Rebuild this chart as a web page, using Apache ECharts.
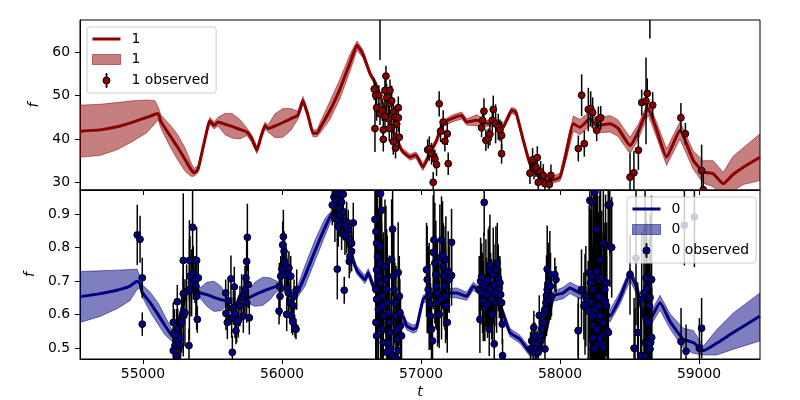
<!DOCTYPE html>
<html><head><meta charset="utf-8">
<script src="https://cdn.jsdelivr.net/npm/echarts@6/dist/echarts.min.js"></script>
<style>html,body{margin:0;padding:0;background:#fff}#c{width:800px;height:400px}</style>
</head><body><div id="c"></div>
<script>
const xTicks = [55000, 56000, 57000, 58000, 59000];
const yTicksTop = [30, 40, 50, 60];
const yTicksBottom = [0.5, 0.6, 0.7, 0.8, 0.9];

// model for output "1": [t, mean, lower, upper]
const model1 = [
[54547,41.8,35.8,47.8],[54691,42.1,36.2,48.0],[54813,42.8,37.5,48.4],[54928,43.9,39.5,48.8],
[55029,45.0,41.5,49.0],[55086,45.7,43.5,48.8],[55108,45.9,44.5,47.5],[55129,44.0,42.5,45.5],
[55194,40.8,38.3,43.3],[55245,38.3,35.4,41.2],[55302,35.3,32.6,38.0],[55345,33.0,31.4,34.6],
[55367,32.2,31.4,33.2],[55396,33.0,32.2,33.8],[55432,38.0,37.2,38.8],[55468,43.0,42.2,43.8],
[55482,44.2,43.4,45.0],[55511,43.1,42.3,43.9],[55540,43.9,43.0,45.0],[55590,43.4,41.0,45.9],
[55640,42.9,40.2,45.9],[55698,42.2,40.0,44.5],[55748,41.6,40.8,42.5],[55784,40.0,39.2,40.8],
[55820,37.4,36.6,38.2],[55849,40.5,39.7,41.3],[55878,43.1,42.3,43.9],[55899,42.4,41.6,43.2],
[55950,43.0,40.3,45.8],[56007,43.8,40.4,47.0],[56065,44.7,42.0,47.0],[56115,45.5,44.6,46.4],
[56151,48.9,48.0,49.8],[56187,45.5,44.7,46.3],[56223,41.3,40.5,42.1],[56252,41.3,40.5,42.1],
[56273,42.5,41.3,43.7],[56345,46.5,44.5,48.7],[56417,51.5,49.3,53.8],[56489,57.5,55.6,59.5],
[56540,61.6,60.5,62.6],[56583,59.5,58.7,60.5],[56633,55.1,54.5,55.8],[56669,53.1,52.5,53.7],
[56705,50.0,49.4,50.6],[56741,46.6,46.0,47.2],[56799,42.0,41.4,42.6],[56861,37.4,36.8,38.0],
[56921,35.8,35.1,36.5],[56964,36.3,35.6,37.0],[57014,33.5,32.7,34.3],[57065,36.7,36.0,37.4],
[57113,39.7,39.0,40.4],[57158,43.6,42.9,44.3],[57230,44.8,44.0,45.6],[57293,45.4,44.6,46.2],
[57329,43.9,43.2,44.6],[57401,44.3,43.0,45.6],[57473,43.6,42.9,44.3],[57545,43.9,43.2,44.6],
[57590,42.7,42.0,43.4],[57652,46.6,45.9,47.3],[57683,46.2,45.5,46.9],[57736,39.7,39.0,40.4],
[57784,34.3,33.6,35.0],[57856,31.2,30.5,31.9],[57928,30.4,29.6,31.2],[58000,31.2,30.3,32.1],
[58043,36.5,35.0,38.0],[58096,43.5,41.8,45.3],[58144,42.7,41.0,44.5],[58216,44.7,43.0,46.4],
[58264,43.1,41.4,44.8],[58360,43.5,41.6,45.4],[58417,42.5,40.6,44.4],[58504,38.5,36.6,40.4],
[58561,41.5,39.8,43.2],[58635,47.0,45.5,48.5],[58691,42.5,40.8,44.2],[58767,35.8,33.9,37.7],
[58863,42.0,40.0,44.0],[58959,35.1,33.0,37.2],[59031,32.4,29.8,35.0],[59101,32.0,29.0,35.0],
[59175,29.7,27.2,32.3],[59245,31.8,28.0,36.0],[59319,33.5,29.5,38.0],[59439,35.8,30.4,41.2]
];

// model for output "0": [t, mean, lower, upper]
const model0 = [
[54547,.654,.577,.729],[54691,.663,.595,.731],[54813,.673,.618,.733],[54906,.685,.642,.735],
[54957,.700,.675,.736],[54978,.693,.680,.715],[54993,.668,.655,.690],[55050,.637,.610,.668],
[55108,.601,.572,.636],[55158,.568,.540,.596],[55209,.537,.520,.555],[55230,.530,.520,.540],
[55266,.596,.586,.606],[55295,.640,.630,.650],[55324,.675,.665,.685],[55360,.672,.662,.682],
[55388,.675,.665,.685],[55410,.665,.650,.680],[55460,.660,.625,.697],[55511,.652,.610,.700],
[55561,.645,.612,.685],[55604,.640,.625,.655],[55626,.616,.606,.626],[55655,.610,.600,.620],
[55698,.655,.645,.665],[55748,.649,.635,.665],[55806,.660,.625,.697],[55863,.670,.628,.712],
[55914,.678,.645,.710],[55964,.685,.670,.700],[56007,.680,.670,.690],[56065,.662,.650,.674],
[56108,.665,.650,.680],[56165,.715,.685,.745],[56237,.790,.760,.822],[56309,.860,.835,.887],
[56367,.905,.895,.915],[56417,.900,.890,.910],[56489,.793,.783,.803],[56537,.734,.722,.746],
[56597,.705,.693,.717],[56621,.725,.713,.737],[56657,.685,.673,.697],[56705,.650,.638,.662],
[56753,.616,.604,.628],[56825,.586,.574,.598],[56870,.595,.580,.610],[56897,.567,.555,.579],
[56945,.557,.545,.569],[56969,.562,.550,.574],[57016,.646,.634,.658],[57088,.665,.650,.680],
[57173,.665,.653,.677],[57257,.665,.650,.680],[57329,.655,.643,.667],[57376,.685,.673,.697],
[57424,.670,.658,.682],[57496,.660,.648,.672],[57545,.655,.643,.667],[57590,.605,.593,.617],
[57640,.547,.535,.559],[57712,.527,.515,.539],[57784,.488,.476,.500],[57832,.478,.466,.490],
[57904,.557,.545,.569],[57952,.655,.640,.670],[58024,.665,.648,.682],[58072,.680,.663,.697],
[58144,.665,.648,.682],[58192,.665,.648,.682],[58288,.650,.632,.668],[58360,.596,.578,.614],
[58432,.650,.632,.668],[58504,.720,.702,.738],[58552,.680,.662,.698],[58624,.567,.549,.585],
[58720,.636,.614,.658],[58792,.580,.558,.602],[58887,.527,.500,.560],[58959,.517,.485,.553],
[59031,.493,.480,.506],[59127,.515,.480,.555],[59247,.547,.497,.605],[59439,.596,.522,.665]
];

// observations for "1": [t, f, error]
const obs1 = [
[56664,51.5,2.5],[56674,50.1,2.8],[56697,50.1,2.3],[56681,47.2,3.0],[56669,42.4,5.4],[56705,45.8,2.6],
[56721,46.6,2.4],[56748,54.5,2.4],[56741,51.2,2.8],[56753,49.5,3.2],[56777,51.2,2.5],[56772,48.1,3.0],
[56789,48.8,3.5],[56729,42.1,3.0],[56729,39.9,2.8],[56765,44.7,2.6],[56741,45.2,3.4],[56801,46.2,3.0],
[56813,45.1,2.5],[56801,39.4,3.0],[56817,37.9,2.4],[56837,47.2,2.6],[56837,44.9,3.2],[56825,43.4,2.7],
[56844,40.4,2.5],[56789,42.6,2.5],[56772,42.4,3.0],[56705,74.0,15.8],
[57048,37.5,2.4],[57060,37.8,2.8],[57076,36.6,2.5],[57100,35.4,2.2],[57112,34.1,2.6],[57088,30.0,2.4],
[57131,48.1,2.9],[57141,41.8,2.5],[57160,43.9,2.7],[57172,39.5,2.4],[57189,41.2,2.6],[57196,34.3,2.6],
[57436,42.6,2.2],[57443,44.3,2.6],[57453,46.4,3.0],[57467,39.7,2.5],[57484,40.1,2.3],[57496,41.1,2.6],
[57513,44.3,2.5],[57520,46.8,3.2],[57537,43.5,4.5],[57556,42.8,3.0],[57568,42.0,2.5],[57580,40.8,3.3],
[57580,36.6,2.3],
[57784,32.1,2.5],[57803,35.2,2.7],[57813,33.1,2.4],[57837,35.7,2.6],[57827,33.5,2.3],[57844,30.0,3.0],
[57861,32.4,2.5],[57880,31.6,2.6],[57892,29.7,2.4],[57923,29.5,2.2],[57935,31.6,2.5],
[58132,37.8,3.0],[58156,50.1,4.8],[58175,38.9,3.0],[58204,46.8,5.0],[58221,47.0,4.0],[58235,46.1,3.5],
[58264,42.0,2.5],[58276,44.5,3.0],[58293,44.9,2.7],
[58504,31.2,5.5],[58532,32.2,5.0],[58564,37.4,4.6],[58588,48.4,3.0],[58619,48.8,10.0],[58628,50.5,3.5],
[58667,47.8,3.0],[58647,72.0,8.8],
[58870,44.9,3.4],[58902,41.2,2.5],[59019,32.7,6.0],[59031,28.3,5.0]
];

// observations for "0": [t, f, error]
const obs0 = [
[54959,.838,.09],[54979,.825,.07],[54995,.710,.06],[54995,.572,.035],
[55218,.577,.06],[55226,.547,.07],[55230,.508,.05],[55242,.537,.08],[55250,.557,.06],[55254,.522,.05],
[55266,.508,.07],[55271,.532,.06],[55218,.493,.04],[55242,.478,.05],[55278,.577,.09],[55290,.596,.12],
[55247,.639,.05],[55302,.606,.1],[55314,.670,.08],[55334,.675,.15],[55338,.715,.12],[55350,.695,.1],
[55357,.861,.14],[55362,.725,.08],[55374,.705,.07],[55381,.685,.09],[55386,.655,.1],[55391,.586,.04],
[55398,.710,.06],[55290,.762,.2],[55334,.762,.12],[55386,.762,.1],[55290,.663,.1],[55331,.508,.05],
[55595,.665,.04],[55597,.604,.05],[55607,.577,.05],[55614,.641,.06],[55633,.707,.07],[55638,.591,.06],
[55650,.621,.05],[55657,.683,.06],[55662,.601,.07],[55669,.552,.04],[55674,.577,.06],[55686,.582,.05],
[55643,.488,.05],[55698,.626,.06],[55710,.651,.07],[55722,.596,.05],[55727,.660,.06],[55734,.675,.07],
[55741,.710,.06],[55746,.759,.08],[55751,.831,.1],[55758,.690,.07],[55765,.591,.05],[55746,.636,.06],
[55979,.611,.04],[55981,.685,.07],[55991,.715,.06],[56000,.736,.07],[56005,.808,.07],[56010,.833,.08],
[56015,.789,.06],[56019,.759,.07],[55986,.655,.06],[56029,.744,.07],[56034,.720,.06],[56039,.680,.05],
[56046,.665,.06],[56050,.739,.05],[56058,.636,.06],[56063,.715,.06],[56070,.596,.05],[56077,.579,.04],
[56082,.626,.05],[56087,.655,.05],[56094,.562,.03],[56101,.557,.03],[56106,.675,.06],[56034,.601,.05],
[56362,.927,.06],[56374,.951,.07],[56388,.961,.06],[56405,.956,.05],[56417,.963,.06],[56441,.959,.06],
[56393,.941,.05],[56429,.936,.06],[56412,.917,.05],[56381,.887,.07],[56398,.882,.06],[56422,.897,.05],
[56441,.907,.06],[56405,.863,.06],[56441,.872,.05],[56465,.877,.06],[56429,.843,.05],[56453,.838,.06],
[56465,.833,.05],[56477,.853,.06],[56489,.823,.05],[56501,.813,.06],[56513,.874,.06],[56489,.774,.05],
[56501,.789,.06],[56484,.759,.05],[56398,.736,.09],[56448,.673,.04],[56460,.867,.05],
[56669,.884,.2],[56676,.848,.25],[56681,.813,.22],[56688,.774,.18],[56681,.734,.3],[56693,.715,.2],
[56676,.675,.25],[56681,.646,.2],[56693,.616,.28],[56676,.577,.2],[56681,.537,.15],[56705,.803,.25],
[56709,.961,.2],[56717,.912,.22],[56705,.754,.2],[56709,.695,.3],[56717,.655,.22],[56724,.626,.2],
[56729,.596,.25],[56717,.557,.18],[56729,.517,.15],[56741,.744,.2],[56748,.705,.22],[56753,.675,.18],
[56757,.636,.2],[56765,.606,.15],[56772,.577,.2],[56777,.547,.12],[56765,.517,.15],[56781,.498,.1],
[56789,.764,.18],[56796,.855,.2],[56801,.715,.15],[56805,.675,.18],[56813,.636,.12],[56820,.596,.15],
[56825,.557,.1],[56829,.527,.12],[56836,.726,.15],[56844,.655,.12],[56848,.606,.1],[56853,.567,.1],
[56860,.537,.08],[56801,.478,.1],[56789,.478,.12],[56836,.493,.1],[56753,.488,.12],[56825,.468,.08],
[57040,.734,.14],[57045,.705,.16],[57052,.675,.13],[57059,.655,.16],[57064,.631,.12],[57069,.596,.1],
[57076,.557,.09],[57083,.522,.08],[57093,.823,.15],[57088,.786,.17],[57100,.754,.18],[57107,.720,.16],
[57112,.685,.13],[57119,.665,.16],[57124,.636,.12],[57131,.601,.1],[57136,.769,.16],[57148,.823,.13],
[57155,.779,.16],[57160,.744,.13],[57165,.715,.15],[57172,.685,.13],[57177,.655,.14],[57184,.626,.1],
[57189,.577,.09],[57179,.764,.13],[57196,.729,.12],[57203,.705,.1],[57220,.717,.09],[57220,.816,.1],
[57148,.646,.12],
[57419,.675,.1],[57424,.586,.1],[57429,.700,.13],[57436,.713,.1],[57443,.665,.12],[57448,.641,.12],
[57453,.685,.16],[57460,.621,.1],[57467,.695,.13],[57472,.660,.11],[57479,.631,.1],[57484,.705,.15],
[57491,.734,.13],[57496,.749,.15],[57501,.675,.11],[57508,.646,.12],[57515,.601,.09],[57520,.720,.14],
[57525,.690,.12],[57532,.665,.1],[57539,.734,.13],[57544,.636,.09],[57549,.754,.12],[57556,.710,.1],
[57563,.680,.09],[57568,.695,.08],[57573,.660,.08],[57580,.636,.07],[57585,.572,.06],[57491,.557,.08],
[57527,.513,.07],[57587,.478,.05],[57455,.935,.1],
[57788,.498,.05],[57796,.522,.04],[57808,.517,.06],[57812,.562,.05],[57820,.537,.04],[57827,.498,.05],
[57836,.513,.04],[57844,.488,.05],[57851,.598,.06],[57856,.537,.05],[57868,.557,.06],[57880,.577,.05],
[57884,.601,.06],[57892,.616,.08],[57899,.636,.1],[57903,.657,.12],[57908,.675,.1],[57916,.695,.12],
[57923,.646,.06],[57927,.720,.13],[57932,.685,.1],[57939,.655,.06],[57908,.736,.13],[57963,.720,.05],
[57971,.705,.04],[57892,.498,.05],
[58131,.553,.08],[58155,.675,.12],[58172,.626,.1],[58186,.655,.15],[58203,.611,.15],[58210,.725,.2],
[58215,.941,.25],[58220,.695,.22],[58227,.636,.25],[58234,.596,.2],[58239,.567,.25],[58244,.675,.3],
[58251,.965,.3],[58258,.715,.25],[58263,.855,.25],[58268,.655,.3],[58275,.626,.22],[58282,.705,.25],
[58287,.586,.2],[58292,.764,.22],[58299,.537,.2],[58306,.513,.15],[58311,.646,.2],[58316,.577,.18],
[58323,.675,.2],[58328,.808,.15],[58335,.626,.15],[58340,.552,.12],[58347,.927,.12],[58239,.498,.15],
[58263,.508,.2],[58227,.527,.2],[58228,.936,.2],[58312,.813,.2],[58288,.764,.25],[58360,.803,.12],
[58264,.729,.25],[58300,.710,.2],[58336,.695,.18],[58240,.675,.25],[58276,.655,.25],[58324,.636,.2],
[58252,.616,.25],[58288,.596,.2],[58312,.577,.2],[58264,.557,.25],[58348,.547,.1],[58240,.532,.2],
[58288,.527,.2],[58252,.500,.2],[58312,.503,.18],[58180,.631,.15],[58132,.552,.1],[58216,.636,.2],
[58228,.715,.25],[58372,.801,.15],[58358,.930,.15],
[58504,.720,.12],[58533,.500,.15],[58540,.500,.12],[58547,.769,.2],[58559,.547,.15],[58564,.547,.12],
[58581,.478,.15],[58588,.646,.2],[58604,.665,.2],[58612,.789,.25],[58612,.517,.15],[58612,.478,.12],
[58619,.710,.2],[58624,.680,.2],[58624,.517,.2],[58629,.586,.2],[58636,.577,.18],[58636,.498,.15],
[58643,.626,.2],[58643,.519,.15],[58648,.651,.25],[58648,.498,.12],[58652,.517,.2],[58659,.705,.25],
[58660,.532,.15],
[58871,.520,.1],[58895,.867,.12],[58907,.491,.08],[58967,.892,.15],[59003,.500,.09],[59019,.560,.09]
];

const FONT = 'DejaVu Sans';
const RED = '#8b0000', RED_BAND = 'rgba(139,0,0,0.5)';
const BLUE = '#000080', BLUE_BAND = 'rgba(0,0,128,0.5)';
const T_MIN = 54547, T_MAX = 59439;

function bandSeries(name, rows, idx, color) {
  return {
    type: 'custom', name: name, xAxisIndex: idx, yAxisIndex: idx, clip: true, z: 1,
    itemStyle: { color: color },
    data: [[rows[0][0], rows[0][1]]],
    renderItem: function (params, api) {
      const up = rows.map(r => api.coord([r[0], r[3]]));
      const dn = rows.slice().reverse().map(r => api.coord([r[0], r[2]]));
      return { type: 'polygon', shape: { points: up.concat(dn) },
        style: { fill: color, stroke: color, lineWidth: 1 } };
    }
  };
}
function meanSeries(name, rows, idx, color) {
  return {
    type: 'line', name: name, xAxisIndex: idx, yAxisIndex: idx, z: 2,
    symbol: 'none', smooth: 0.15, clip: true,
    lineStyle: { color: color, width: 3 }, itemStyle: { color: color },
    data: rows.map(r => [r[0], r[1]])
  };
}
function barSeries(name, obs, idx) {
  return {
    type: 'custom', name: name, xAxisIndex: idx, yAxisIndex: idx, clip: true, z: 3,
    data: obs, encode: { x: 0, y: 1 },
    renderItem: function (params, api) {
      const t = api.value(0), f = api.value(1), e = api.value(2);
      const a = api.coord([t, f - e]), b = api.coord([t, f + e]);
      return { type: 'line', shape: { x1: a[0], y1: a[1], x2: b[0], y2: b[1] },
        style: { stroke: '#000', lineWidth: 1.5 } };
    }
  };
}
function markerSeries(name, obs, idx, color) {
  return {
    type: 'custom', name: name, xAxisIndex: idx, yAxisIndex: idx, clip: true, z: 4,
    itemStyle: { color: color },
    data: obs, encode: { x: 0, y: 1 },
    renderItem: function (params, api) {
      const p = api.coord([api.value(0), api.value(1)]);
      return { type: 'circle', shape: { cx: p[0], cy: p[1], r: 3.4 },
        style: { fill: color, stroke: '#000', lineWidth: 1 } };
    }
  };
}

const lineIcon = 'path://M0,0h28v3h-28z';
const bandIcon = 'path://M0,0h28v10h-28z';
const obsIcon = 'path://M3.05,0h0.9v3.6h-0.9z M0,7a3.5,3.5 0 1,0 7,0a3.5,3.5 0 1,0 -7,0z M3.05,10.4h0.9v3.6h-0.9z';

function legendCfg(left, top, prefix, lineColor, bandColor) {
  return {
    left: left, top: top, orient: 'vertical', itemWidth: 28, itemHeight: 14, itemGap: 6.5,
    padding: [5, 7, 5, 5], backgroundColor: 'rgba(255,255,255,0.8)',
    borderColor: '#cccccc', borderWidth: 1, borderRadius: 3, selectedMode: false, z: 10,
    textStyle: { fontFamily: FONT, fontSize: 13.9, color: '#000', padding: [0, 0, 0, 6] },
    data: [
      { name: prefix, icon: lineIcon, itemStyle: { color: lineColor, borderWidth: 0 } },
      { name: prefix + ' ', icon: bandIcon, itemStyle: { color: bandColor, borderColor: bandColor, borderWidth: 1 } },
      { name: prefix + ' observed', icon: obsIcon, itemStyle: { color: lineColor, borderColor: '#000', borderWidth: 1 } }
    ]
  };
}

function xAxisCfg(idx, showLabels) {
  return {
    type: 'value', gridIndex: idx, min: T_MIN, max: T_MAX,
    axisLine: { show: true, onZero: false, lineStyle: { color: '#000', width: 1 } },
    axisTick: { show: true, length: 5, customValues: xTicks, lineStyle: { color: '#000', width: 1 } },
    axisLabel: { show: showLabels, customValues: xTicks, margin: 8, fontFamily: FONT, fontSize: 13.9, color: '#000',
      formatter: function (v) { return String(v); } },
    splitLine: { show: false },
    name: showLabels ? 't' : '', nameLocation: 'middle', nameGap: 26,
    nameTextStyle: { fontFamily: FONT, fontStyle: 'italic', fontSize: 13.9, color: '#000' }
  };
}
function yAxisCfg(idx, min, max, ticks) {
  return {
    type: 'value', gridIndex: idx, min: min, max: max,
    axisLine: { show: true, onZero: false, lineStyle: { color: '#000', width: 1 } },
    axisTick: { show: true, length: 5, customValues: ticks, lineStyle: { color: '#000', width: 1 } },
    axisLabel: { customValues: ticks, margin: 10, fontFamily: FONT, fontSize: 13.9, color: '#000',
      formatter: function (v) { return String(v); } },
    splitLine: { show: false },
    name: 'f', nameLocation: 'middle', nameGap: 27, nameRotate: 90,
    nameTextStyle: { fontFamily: FONT, fontStyle: 'italic', fontSize: 13.9, color: '#000' }
  };
}

const chart = echarts.init(document.getElementById('c'), null, { renderer: 'canvas' });
chart.setOption({
  animation: false,
  backgroundColor: '#fff',
  textStyle: { fontFamily: FONT },
  grid: [
    { left: 80, top: 20, width: 680, height: 170, show: true, borderColor: '#000', borderWidth: 1, backgroundColor: 'transparent' },
    { left: 80, top: 190, width: 680, height: 170, show: true, borderColor: '#000', borderWidth: 1, backgroundColor: 'transparent' }
  ],
  xAxis: [xAxisCfg(0, false), xAxisCfg(1, true)],
  yAxis: [yAxisCfg(0, 28.23, 67.44, yTicksTop), yAxisCfg(1, 0.468, 0.972, yTicksBottom)],
  legend: [
    legendCfg(87, 27, '1', RED, RED_BAND),
    legendCfg(627, 197, '0', BLUE, BLUE_BAND)
  ],
  series: [
    bandSeries('1 ', model1, 0, RED_BAND),
    meanSeries('1', model1, 0, RED),
    barSeries('1 bars', obs1, 0),
    markerSeries('1 observed', obs1, 0, RED),
    bandSeries('0 ', model0, 1, BLUE_BAND),
    meanSeries('0', model0, 1, BLUE),
    barSeries('0 bars', obs0, 1),
    markerSeries('0 observed', obs0, 1, BLUE)
  ]
});
</script>
</body></html>
